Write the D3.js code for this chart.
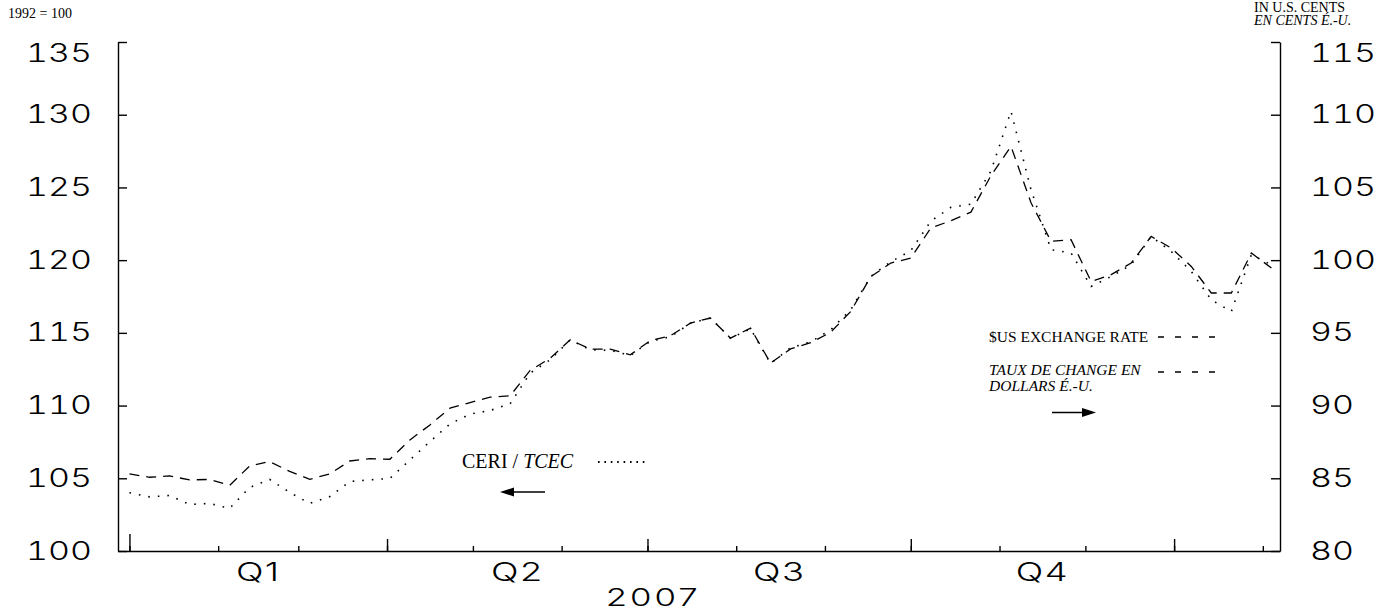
<!DOCTYPE html>
<html><head><meta charset="utf-8">
<script src="https://cdn.jsdelivr.net/npm/d3@7"></script>
<style>body{margin:0;background:#fff}</style>
</head><body>
<svg id="c" width="1396" height="613"></svg>
<script>
// CERI / TCEC index (1992 = 100), left axis — weekly
const ceri = [104.01,103.72,103.82,103.20,103.27,102.93,104.37,104.92,104.03,103.27,
  103.74,104.78,104.89,104.99,106.26,107.52,108.74,109.41,109.66,110.12,
  112.23,113.15,114.52,113.83,113.80,113.45,114.42,114.73,115.66,116.02,
  114.63,115.28,112.90,113.97,114.38,115.21,116.59,118.88,119.89,120.65,
  122.68,123.63,123.85,126.12,130.23,124.85,120.72,120.49,118.19,118.88,
  119.68,121.63,120.60,119.22,117.27,116.47,120.37,119.68];
// $US exchange rate (US cents), right axis — weekly
const usd = [85.30,85.07,85.16,84.89,84.92,84.51,85.85,86.15,85.47,84.93,
  85.30,86.19,86.35,86.31,87.64,88.67,89.82,90.21,90.58,90.67,
  92.42,93.25,94.52,93.88,93.88,93.49,94.47,94.80,95.67,96.02,
  94.64,95.33,92.92,93.90,94.32,95.04,96.47,98.86,99.80,100.14,
  102.21,102.71,103.30,105.81,107.83,103.95,101.30,101.40,98.53,99.00,
  99.80,101.63,100.83,99.57,97.74,97.74,100.49,99.46];
const leftTicks = [100,105,110,115,120,125,130,135];
const rightTicks = [80,85,90,95,100,105,110,115];
const quarterLabels = ["Q1","Q2","Q3","Q4"];
const yearLabel = "2007";
const leftUnit = "1992 = 100";
const rightUnit1 = "IN U.S. CENTS";
const rightUnit2 = "EN CENTS É.-U.";

const dates = d3.timeDay.range(new Date(2007,0,1), new Date(2008,1,5), 7);

const svg = d3.select("#c");
const L = 118, R = 1280, T = 42, B = 551;
const x = d3.scaleTime().domain([new Date(2006,11,28), new Date(2008,1,7)]).range([L, R]);
const yL = d3.scaleLinear().domain([100,135]).range([B, T]);
const yR = d3.scaleLinear().domain([80,115]).range([B, T]);

const SANS = "Inter, 'Liberation Sans', sans-serif";
const SERIF = "'Liberation Serif', 'Times New Roman', serif";
const SX = 1.45;   // bottom labels
const SY = 1.36;   // axis value labels

function styleAxis(g){
  g.selectAll("path,line").attr("stroke","#000").attr("stroke-width",1.4);
}

// left axis
const gL = svg.append("g").attr("transform",`translate(${L},0)`)
  .call(d3.axisLeft(yL).tickValues(leftTicks).tickSize(-9).tickSizeOuter(0).tickPadding(26));
styleAxis(gL);
gL.selectAll("text")
  .attr("font-family",SANS).attr("font-weight",300).attr("font-size",25)
  .style("font-variant-numeric","tabular-nums").attr("fill","#000")
  .attr("x",-26/SY).attr("transform",`scale(${SY},1)`)
  .attr("y", d => d === 135 ? 11 : 0);

// right axis
const gR = svg.append("g").attr("transform",`translate(${R},0)`)
  .call(d3.axisRight(yR).tickValues(rightTicks).tickSize(-9).tickSizeOuter(0).tickPadding(30));
styleAxis(gR);
gR.selectAll("text")
  .attr("font-family",SANS).attr("font-weight",300).attr("font-size",25)
  .style("font-variant-numeric","tabular-nums").attr("fill","#000")
  .attr("x",30/SY).attr("transform",`scale(${SY},1)`)
  .attr("y", d => d === 115 ? 11 : 0);

// bottom axis: months (minor) and quarters (major)
const months = d3.timeMonth.range(new Date(2007,0,1), new Date(2008,1,7));
const quarters = months.filter(d => d.getMonth() % 3 === 0);
const gB = svg.append("g").attr("transform",`translate(0,${B})`)
  .call(d3.axisBottom(x).tickValues(months).tickSize(-5).tickSizeOuter(0).tickFormat(""));
styleAxis(gB);
const gQ = svg.append("g").attr("transform",`translate(0,${B})`)
  .call(d3.axisBottom(x).tickValues(quarters).tickSize(-12).tickSizeOuter(0).tickFormat(""));
styleAxis(gQ);
gQ.select(".domain").remove();
gQ.selectAll(".tick line").filter((d,i) => i === 0).attr("y2",-17);

// quarter labels
const qMid = quarterLabels.map((q,i) => ({q, d: new Date((new Date(2007,i*3,1).getTime()+new Date(2007,i*3+3,1).getTime())/2)}));
svg.append("g").selectAll("text").data(qMid).join("text")
  .attr("font-family",SANS).attr("font-weight",300).attr("font-size",25).attr("fill","#000")
  .attr("text-anchor","middle").style("letter-spacing","1px")
  .attr("transform", d => `translate(${x(d.d)},581) scale(${SX},1)`)
  .text(d => d.q);
svg.append("text")
  .attr("font-family",SANS).attr("font-weight",300).attr("font-size",24).attr("fill","#000")
  .attr("text-anchor","middle").style("letter-spacing","2px")
  .attr("transform", `translate(${x(new Date(2007,6,3))},606) scale(${SX},1)`)
  .text(yearLabel);

// unit captions
svg.append("text").attr("x",8).attr("y",18).attr("font-family",SERIF).attr("font-size",14).text(leftUnit);
svg.append("text").attr("x",1254).attr("y",12).attr("font-family",SERIF).attr("font-size",14).text(rightUnit1);
svg.append("text").attr("x",1254).attr("y",25).attr("font-family",SERIF).attr("font-size",14).attr("font-style","italic").text(rightUnit2);

// series lines
const lineL = d3.line().x((d,i) => x(dates[i])).y(d => yL(d));
const lineR = d3.line().x((d,i) => x(dates[i])).y(d => yR(d));
svg.append("path").datum(usd).attr("d",lineR).attr("fill","none")
  .attr("stroke","#000").attr("stroke-width",1.3).attr("stroke-dasharray","10,7");
svg.append("path").datum(ceri).attr("d",lineL).attr("fill","none")
  .attr("stroke","#000").attr("stroke-width",1.6).attr("stroke-dasharray","1.6,8");

// legend: CERI
const t1 = svg.append("text").attr("x",462).attr("y",468).attr("font-family",SERIF).attr("font-size",20);
t1.append("tspan").text("CERI / ");
t1.append("tspan").attr("font-style","italic").text("TCEC");
svg.append("line").attr("x1",598).attr("x2",647).attr("y1",462).attr("y2",462)
  .attr("stroke","#000").attr("stroke-width",1.8).attr("stroke-dasharray","1.6,4.8");
svg.append("line").attr("x1",510).attr("x2",545).attr("y1",492).attr("y2",492).attr("stroke","#000").attr("stroke-width",1.6);
svg.append("path").attr("d","M500,492L514,487.5L514,496.5Z").attr("fill","#000");

// legend: USD
svg.append("text").attr("x",989).attr("y",342).attr("font-family",SERIF).attr("font-size",15.5).text("$US EXCHANGE RATE");
svg.append("text").attr("x",989).attr("y",375).attr("font-family",SERIF).attr("font-size",15.5).attr("font-style","italic").text("TAUX DE CHANGE EN");
svg.append("text").attr("x",989).attr("y",391).attr("font-family",SERIF).attr("font-size",15.5).attr("font-style","italic").text("DOLLARS É.-U.");
[337,372].forEach(yy => svg.append("line").attr("x1",1158).attr("x2",1216).attr("y1",yy).attr("y2",yy)
  .attr("stroke","#000").attr("stroke-width",1.3).attr("stroke-dasharray","6,11"));
svg.append("line").attr("x1",1052).attr("x2",1086).attr("y1",412.5).attr("y2",412.5).attr("stroke","#000").attr("stroke-width",1.6);
svg.append("path").attr("d","M1096,412.5L1082,408L1082,417Z").attr("fill","#000");
</script>
</body></html>
